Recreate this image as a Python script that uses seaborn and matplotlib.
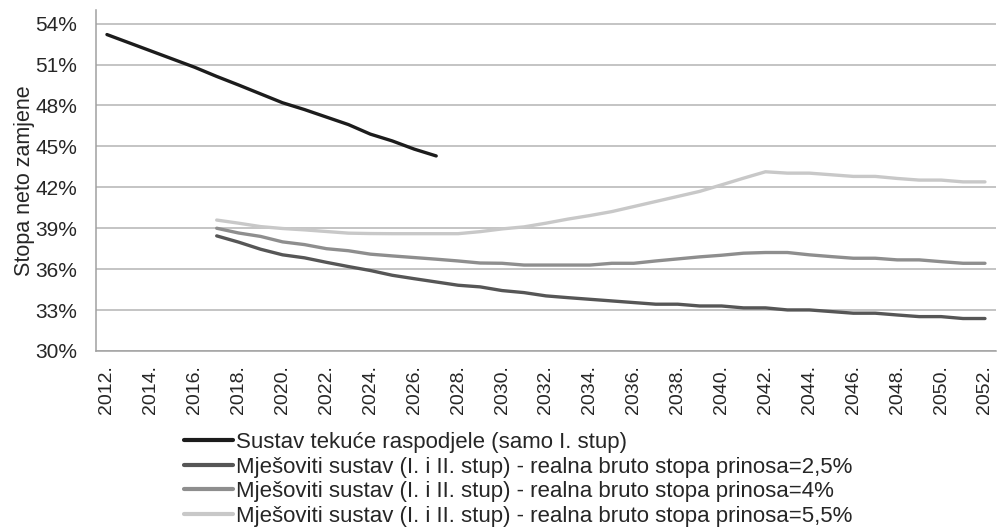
import pandas as pd
import seaborn as sns
import matplotlib.pyplot as plt
from matplotlib.ticker import FixedLocator, PercentFormatter

# Podaci procitani s grafa (stopa neto zamjene u %)
godine = list(range(2012, 2053))
godine_tekuca = list(range(2012, 2028))
godine_mjesoviti = list(range(2017, 2053))

tekuca = [53.2, 52.6, 52.0, 51.4, 50.8, 50.13, 49.5, 48.85, 48.2, 47.7,
          47.15, 46.6, 45.9, 45.4, 44.8, 44.3]
prinos_25 = [38.44, 37.98, 37.46, 37.05, 36.83, 36.5, 36.19, 35.9, 35.55, 35.3,
             35.06, 34.82, 34.7, 34.43, 34.28, 34.04, 33.91, 33.79, 33.67, 33.55,
             33.43, 33.43, 33.3, 33.3, 33.16, 33.16, 33.01, 33.01, 32.89, 32.77,
             32.77, 32.64, 32.52, 32.52, 32.38, 32.38]
prinos_4 = [39.0, 38.65, 38.4, 38.0, 37.8, 37.5, 37.35, 37.1, 36.97, 36.85,
            36.73, 36.6, 36.45, 36.43, 36.3, 36.3, 36.3, 36.3, 36.43, 36.43,
            36.6, 36.75, 36.9, 37.02, 37.17, 37.22, 37.22, 37.05, 36.92, 36.8,
            36.8, 36.68, 36.68, 36.55, 36.43, 36.43]
prinos_55 = [39.6, 39.37, 39.12, 38.98, 38.88, 38.76, 38.64, 38.61, 38.6, 38.6,
             38.6, 38.6, 38.75, 38.95, 39.1, 39.37, 39.67, 39.93, 40.22, 40.59,
             40.96, 41.33, 41.7, 42.18, 42.67, 43.14, 43.04, 43.04, 42.92, 42.8,
             42.8, 42.65, 42.53, 42.53, 42.4, 42.4]

nazivi = ['Sustav tekuće raspodjele (samo I. stup)',
          'Mješoviti sustav (I. i II. stup) - realna bruto stopa prinosa=2,5%',
          'Mješoviti sustav (I. i II. stup) - realna bruto stopa prinosa=4%',
          'Mješoviti sustav (I. i II. stup) - realna bruto stopa prinosa=5,5%']
boje = ['#1c1c1c', '#565656', '#8e8e8e', '#c8c8c8']

# long format tablica za seaborn
df = pd.concat([
    pd.DataFrame({'godina': godine_tekuca, 'stopa': tekuca, 'serija': nazivi[0]}),
    pd.DataFrame({'godina': godine_mjesoviti, 'stopa': prinos_25, 'serija': nazivi[1]}),
    pd.DataFrame({'godina': godine_mjesoviti, 'stopa': prinos_4, 'serija': nazivi[2]}),
    pd.DataFrame({'godina': godine_mjesoviti, 'stopa': prinos_55, 'serija': nazivi[3]}),
])

sns.set_style('white')
plt.rcParams['font.family'] = ['Liberation Sans', 'DejaVu Sans']

fig = plt.figure(figsize=(10.06, 5.27), dpi=100)
ax = fig.add_axes([0.0954, 0.334, 0.8946, 0.647])

sns.lineplot(data=df, x='godina', y='stopa', hue='serija', hue_order=nazivi,
             palette=boje, linewidth=2.4, ax=ax, legend=False)

# osi
ax.set_ylim(30, 55)
ax.set_xlim(2011.5, 2052.5)
ax.yaxis.set_major_locator(FixedLocator(range(30, 55, 3)))
ax.yaxis.set_major_formatter(PercentFormatter(decimals=0))
ax.grid(axis='y', color='#b4b4b4', linewidth=1.1)
ax.set_axisbelow(True)

ax.set_xticks(godine[::2])
ax.set_xticklabels([f'{g}.' for g in godine[::2]], rotation=90, fontsize=14)
ax.set_xticks([g - 0.5 for g in godine] + [2052.5], minor=True)
ax.tick_params(axis='x', which='major', length=0, pad=10)
ax.tick_params(axis='x', which='minor', length=4, color='#a0a0a0', width=1)
ax.tick_params(axis='y', which='major', length=6.5, color='#a0a0a0', width=1,
               labelsize=15, pad=7)
ax.set_xlabel('')
ax.set_ylabel('Stopa neto zamjene', fontsize=15.5, labelpad=0)

for s in ['top', 'right']:
    ax.spines[s].set_visible(False)
for s in ['left', 'bottom']:
    ax.spines[s].set_color('#a0a0a0')
    ax.spines[s].set_linewidth(1.1)

# legenda ispod grafa
linije = [plt.Line2D([], [], color=c, linewidth=3) for c in boje]
fig.legend(linije, nazivi, loc='upper left', bbox_to_anchor=(0.183, 0.18),
           frameon=False, handlelength=2.2, handletextpad=0.15, labelspacing=0.16,
           borderaxespad=0, borderpad=0, prop={'size': 16})

fig.savefig('out.png', dpi=100)
